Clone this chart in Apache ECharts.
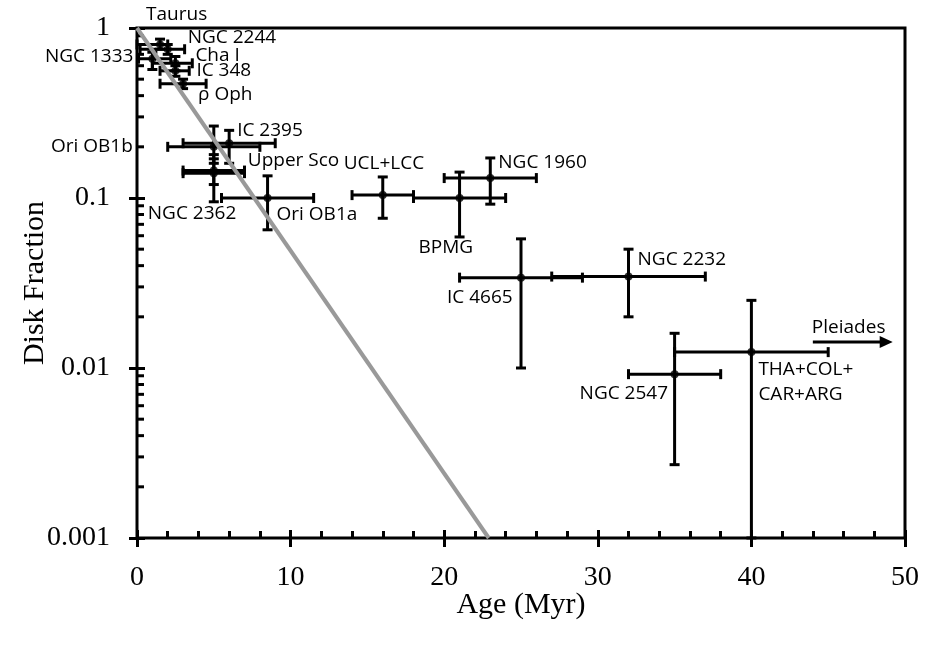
<!DOCTYPE html>
<html>
<head>
<meta charset="utf-8">
<title>Disk Fraction vs Age</title>
<script src="https://cdn.jsdelivr.net/npm/echarts@6/dist/echarts.min.js"></script>
<style>
  html, body { margin: 0; padding: 0; background: #fff; }
  #chart { width: 942px; height: 647px; }
</style>
</head>
<body>
<div id="chart"></div>
<script>
// cluster data
const clusters = ['Taurus', 'NGC 2244', 'NGC 1333', 'Cha I', 'IC 348', 'ρ Oph',
  'Ori OB1b', 'IC 2395', 'Upper Sco', 'NGC 2362', 'Ori OB1a', 'UCL+LCC',
  'BPMG', 'NGC 1960', 'IC 4665', 'NGC 2232', 'NGC 2547', 'THA+COL+\nCAR+ARG'];
const ages      = [1.5, 2.0, 1.0, 2.5, 2.5, 3.0, 5.0, 6.0, 5.0, 5.0, 8.5, 16, 21, 23, 25, 32, 35, 40];
const ageLow    = [0.0, 0.2, 0.1, 1.0, 1.5, 1.5, 2.0, 3.0, 3.0, 3.0, 5.5, 14, 18, 20, 21, 27, 32, 35];
const ageHigh   = [2.0, 3.1, 2.2, 3.6, 3.4, 4.5, 8.0, 9.0, 7.0, 7.0, 11.5, 18, 24, 26, 29, 37, 38, 45];
const fractions = [0.80, 0.75, 0.66, 0.62, 0.56, 0.47, 0.20, 0.21, 0.145, 0.14, 0.10, 0.104, 0.10, 0.131, 0.034, 0.0345, 0.0092, 0.0124];
const fracLow   = [0.75, 0.70, 0.57, 0.56, 0.52, 0.44, 0.16, 0.16, 0.12, 0.095, 0.065, 0.076, 0.059, 0.092, 0.010, 0.020, 0.0027, 0.001];
const fracHigh  = [0.86, 0.80, 0.72, 0.68, 0.60, 0.50, 0.265, 0.25, 0.17, 0.18, 0.135, 0.133, 0.142, 0.172, 0.0575, 0.050, 0.016, 0.025];

// Pleiades: lower limit on age, drawn as an arrow
const pleiadesName = 'Pleiades';
const pleiadesAge = [44, 49.2];
const pleiadesFraction = 0.0142;

// exponential decay line (grey)
const decayAges = [0, 22.9];
const decayFractions = [1, 0.001];

// log minor ticks on the y axis
const yMinorTicks = [0.002, 0.003, 0.004, 0.005, 0.006, 0.007, 0.008, 0.009,
  0.02, 0.03, 0.04, 0.05, 0.06, 0.07, 0.08, 0.09,
  0.2, 0.3, 0.4, 0.5, 0.6, 0.7, 0.8, 0.9];

// label placement relative to each point, in px: [dx, dy, align]
const labelOffsets = {
  'Taurus': [-14, -30, 'left'],
  'NGC 2244': [20, -12, 'left'],
  'NGC 1333': [-19, -2, 'right'],
  'Cha I': [20, -8, 'left'],
  'IC 348': [21, 0, 'left'],
  'ρ Oph': [15, 11, 'left'],
  'Ori OB1b': [-81, 0, 'right'],
  'IC 2395': [8, -13, 'left'],
  'Upper Sco': [34, -10, 'left'],
  'NGC 2362': [-66, 40, 'left'],
  'Ori OB1a': [9, 17, 'left'],
  'UCL+LCC': [-39, -32, 'left'],
  'BPMG': [-41, 50, 'left'],
  'NGC 1960': [8, -15, 'left'],
  'IC 4665': [-74, 20, 'left'],
  'NGC 2232': [9, -17, 'left'],
  'NGC 2547': [-95, 19, 'left'],
  'THA+COL+\nCAR+ARG': [7, 30, 'left']
};

const serif = 'Liberation Serif';
const sans = 'Open Sans';
const ink = '#000';
const labelFont = '19px "' + sans + '"';

const barData = clusters.map((name, i) => [ages[i], fractions[i], ageLow[i], ageHigh[i], fracLow[i], fracHigh[i]]);

function seg(x1, y1, x2, y2) {
  return { type: 'line', shape: { x1, y1, x2, y2 }, style: { stroke: ink, lineWidth: 3 } };
}

function renderErrorBar(params, api) {
  const name = clusters[params.dataIndex];
  const c = api.coord([api.value(0), api.value(1)]);
  const l = api.coord([api.value(2), api.value(1)]);
  const r = api.coord([api.value(3), api.value(1)]);
  const b = api.coord([api.value(0), api.value(4)]);
  const t = api.coord([api.value(0), api.value(5)]);
  const cap = 5;
  const off = labelOffsets[name];
  return {
    type: 'group',
    children: [
      seg(l[0], c[1], r[0], c[1]),
      seg(l[0], c[1] - cap, l[0], c[1] + cap),
      seg(r[0], c[1] - cap, r[0], c[1] + cap),
      seg(c[0], b[1], c[0], t[1]),
      seg(c[0] - cap, b[1], c[0] + cap, b[1]),
      seg(c[0] - cap, t[1], c[0] + cap, t[1]),
      {
        type: 'text',
        z2: 10,
        style: {
          text: name,
          x: c[0] + off[0],
          y: c[1] + off[1],
          align: off[2],
          verticalAlign: 'middle',
          font: labelFont,
          lineHeight: 25,
          fill: ink
        }
      }
    ]
  };
}

function renderMinorTick(params, api) {
  const p = api.coord([0, api.value(1)]);
  return seg(p[0], p[1], p[0] + 7, p[1]);
}

function renderArrow(params, api) {
  const a = api.coord([api.value(0), api.value(2)]);
  const b = api.coord([api.value(1), api.value(2)]);
  return {
    type: 'group',
    children: [
      seg(a[0], a[1], b[0] - 8, b[1]),
      { type: 'polygon', shape: { points: [[b[0], b[1]], [b[0] - 13, b[1] - 6], [b[0] - 13, b[1] + 6]] }, style: { fill: ink } },
      {
        type: 'text',
        style: { text: pleiadesName, x: a[0] - 1, y: a[1] - 15, align: 'left', verticalAlign: 'middle', font: labelFont, fill: ink }
      }
    ]
  };
}

const tickStyle = { color: ink, width: 3 };

const option = {
  animation: false,
  backgroundColor: '#fff',
  grid: { left: 137, right: 37, top: 28, bottom: 109, show: true, borderColor: ink, borderWidth: 3, containLabel: false },
  xAxis: [
    {
      type: 'value', min: 0, max: 50, interval: 10, position: 'bottom',
      name: 'Age (Myr)', nameLocation: 'middle', nameGap: 52, nameMoveOverlap: false,
      nameTextStyle: { fontFamily: serif, fontSize: 30, color: ink },
      axisLine: { show: false, onZero: false },
      axisTick: { show: true, inside: false, length: 9, lineStyle: tickStyle },
      axisLabel: { fontFamily: serif, fontSize: 28, color: ink, margin: 26 },
      splitLine: { show: false }
    },
    {
      type: 'value', min: 0, max: 50, interval: 10, position: 'bottom',
      axisLine: { show: false, onZero: false },
      axisTick: { show: true, inside: true, length: 8, lineStyle: tickStyle },
      minorTick: { show: true, splitNumber: 5, length: 7, lineStyle: tickStyle },
      axisLabel: { show: false },
      splitLine: { show: false }
    }
  ],
  yAxis: [
    {
      type: 'log', logBase: 10, min: 0.001, max: 1, position: 'left',
      name: 'Disk Fraction', nameLocation: 'middle', nameGap: 87, nameRotate: 90, nameMoveOverlap: false,
      nameTextStyle: { fontFamily: serif, fontSize: 30, color: ink },
      axisLine: { show: false, onZero: false },
      axisTick: { show: true, inside: false, length: 8, lineStyle: tickStyle },
      axisLabel: { fontFamily: serif, fontSize: 28, color: ink, margin: 27,
        formatter: v => String(Number(v.toPrecision(3))) },
      splitLine: { show: false }
    },
    {
      type: 'log', logBase: 10, min: 0.001, max: 1, position: 'left',
      axisLine: { show: false, onZero: false },
      axisTick: { show: true, inside: true, length: 8, lineStyle: tickStyle },
      axisLabel: { show: false },
      splitLine: { show: false }
    }
  ],
  series: [
    {
      type: 'custom', name: 'y minor ticks', xAxisIndex: 0, yAxisIndex: 0,
      renderItem: renderMinorTick,
      data: yMinorTicks.map(v => [0, v]),
      silent: true, z: 3
    },
    {
      type: 'custom', name: 'error bars', xAxisIndex: 0, yAxisIndex: 0,
      renderItem: renderErrorBar,
      encode: { x: 0, y: 1 },
      data: barData, z: 4
    },
    {
      type: 'scatter', name: 'clusters', xAxisIndex: 0, yAxisIndex: 0,
      data: clusters.map((n, i) => [ages[i], fractions[i]]),
      symbol: 'circle', symbolSize: 8,
      itemStyle: { color: ink }, z: 5
    },
    {
      type: 'custom', name: 'Pleiades', xAxisIndex: 0, yAxisIndex: 0,
      renderItem: renderArrow,
      encode: { x: [0, 1], y: 2 },
      data: [[pleiadesAge[0], pleiadesAge[1], pleiadesFraction]], z: 5
    },
    {
      type: 'line', name: 'decay', xAxisIndex: 0, yAxisIndex: 0,
      data: decayAges.map((a, i) => [a, decayFractions[i]]),
      symbol: 'none', lineStyle: { color: '#999', width: 4 }, z: 6
    }
  ]
};

const chart = echarts.init(document.getElementById('chart'));
chart.setOption(option);
</script>
</body>
</html>
